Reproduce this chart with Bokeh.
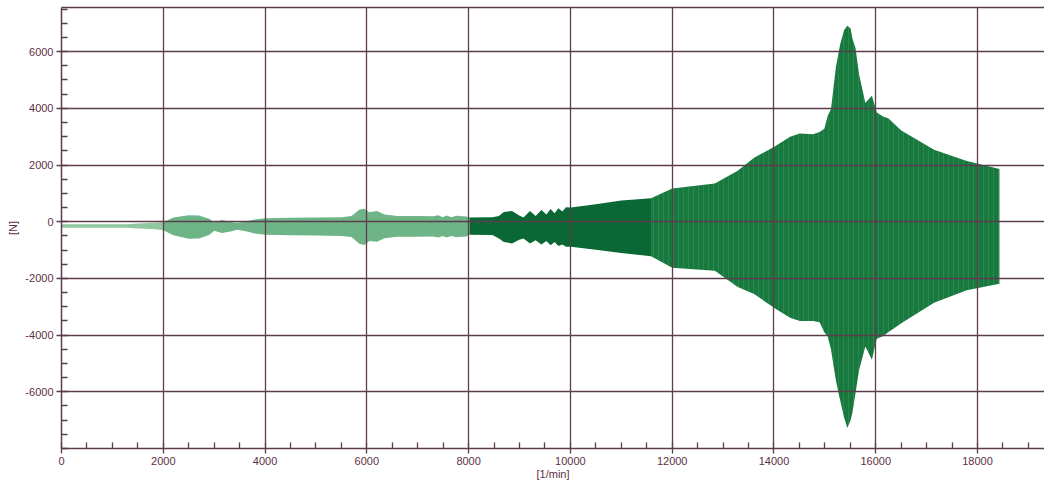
from bokeh.plotting import figure
from bokeh.models import Range1d, FixedTicker, LinearAxis, ColumnDataSource, CustomJSTickFormatter
from bokeh.embed import file_html
from bokeh.resources import INLINE

# Envelope of the force signal: speed [1/min], upper / lower force [N]
rpm = [0, 1300, 1500, 1800, 2000, 2200, 2500, 2700, 2900, 3000, 3150, 3300, 3450, 3600,
       3800, 4000, 4500, 5000, 5500, 5700, 5850, 5950, 6050, 6200, 6350, 6600, 7000,
       7300, 7406, 7490, 7567, 7660, 7759, 7950, 8017, 8467, 8596, 8692, 8853, 8994,
       9078, 9206, 9316, 9431, 9528, 9611, 9688, 9765, 9842, 9913, 10010, 10500, 11000,
       11585, 12002, 12839, 13288, 13610, 14015, 14317, 14510, 14768, 14896, 14990,
       15056, 15120, 15217, 15300, 15377, 15442, 15506, 15540, 15602, 15670, 15795,
       15850, 15924, 16020, 16150, 16245, 16502, 17145, 17788, 18431]
upper = [-90, -90, -60, -40, -20, 150, 230, 220, 100, -20, 60, 0, -40, 0,
         80, 120, 140, 150, 160, 200, 420, 460, 330, 380, 250, 200, 200,
         190, 230, 160, 220, 160, 210, 180, 150, 160, 205, 342, 376, 220,
         147, 376, 205, 410, 250, 444, 295, 478, 362, 512, 500, 620, 750,
         831, 1173, 1344, 1799, 2256, 2653, 2995, 3111, 3088, 3166, 3280,
         3740, 3970, 5450, 6250, 6756, 6910, 6814, 6470, 6130, 5220, 4190,
         4300, 4445, 3850, 3700, 3650, 3220, 2540, 2140, 1860]
lower = [-210, -210, -240, -260, -300, -480, -600, -590, -470, -320, -400, -350, -280, -330,
         -420, -460, -480, -490, -500, -540, -780, -820, -680, -710, -580, -530, -530,
         -520, -560, -500, -560, -500, -550, -520, -460, -470, -595, -720, -766, -640,
         -595, -766, -650, -800, -680, -834, -720, -857, -800, -880, -880, -990, -1100,
         -1220, -1620, -1733, -2304, -2550, -3050, -3385, -3499, -3499, -3550, -3900,
         -4050, -4500, -5600, -6300, -6900, -7280, -7000, -6750, -6050, -5250, -4400,
         -4600, -4870, -4130, -4030, -3900, -3580, -2860, -2420, -2190]

x_ticks = [0, 2000, 4000, 6000, 8000, 10000, 12000, 14000, 16000, 18000]
y_ticks = [-6000, -4000, -2000, 0, 2000, 4000, 6000]
x_minor = list(range(0, 19500, 500))
y_minor = list(range(-8000, 8000, 500))

GRID = "#5b3d4c"
TXT = "#5e3045"

p = figure(width=1044, height=487, output_backend="svg", toolbar_location=None,
           x_range=Range1d(0, 19316), y_range=Range1d(-8000, 7556),
           min_border_left=61, min_border_right=0, min_border_top=7, min_border_bottom=39,
           background_fill_color="white", border_fill_color="white")
p.outline_line_color = None

# segments (style only)
segs = [(0, 2000, "#8fc79f", 1.0, None),
        (2000, 8017, "#55a771", 0.85, None),
        (8017, 11585, "#096834", 1.0, None),
        (11585, 18431, "#18793f", 1.0, "|")]
for a, b, col, al, hatch in segs:
    idx = [i for i, r in enumerate(rpm) if a <= r <= b]
    src = ColumnDataSource(dict(x=[rpm[i] for i in idx],
                                y1=[lower[i] for i in idx],
                                y2=[upper[i] for i in idx]))
    kw = {}
    if hatch:
        kw = dict(hatch_pattern=hatch, hatch_color="#5aa878", hatch_alpha=0.3,
                  hatch_scale=5, hatch_weight=1)
    p.varea(x="x", y1="y1", y2="y2", source=src, fill_color=col, fill_alpha=al, **kw)

for g in (p.xgrid, p.ygrid):
    g.grid_line_color = GRID
    g.grid_line_width = 1.3
    g.level = "overlay"
p.xgrid.ticker = FixedTicker(ticks=x_ticks)
p.ygrid.ticker = FixedTicker(ticks=y_ticks)

fmt = CustomJSTickFormatter(code="return tick.toFixed(0);")
p.xaxis.ticker = FixedTicker(ticks=x_ticks, minor_ticks=x_minor)
p.yaxis.ticker = FixedTicker(ticks=y_ticks, minor_ticks=y_minor)
for ax in (p.xaxis[0], p.yaxis[0]):
    ax.formatter = fmt
    ax.axis_line_color = GRID
    ax.axis_line_width = 1.5
    ax.major_tick_line_color = GRID
    ax.minor_tick_line_color = GRID
    ax.major_tick_line_width = 1.3
    ax.minor_tick_line_width = 1.3
    ax.major_tick_out = 5
    ax.major_tick_in = 0
    ax.minor_tick_in = 6
    ax.minor_tick_out = 0
    ax.major_label_text_color = TXT
    ax.major_label_text_font = "Liberation Sans"
    ax.major_label_text_font_size = "11px"
    ax.major_label_standoff = 3
    ax.axis_label_text_color = TXT
    ax.axis_label_text_font = "Liberation Sans"
    ax.axis_label_text_font_size = "11px"
    ax.axis_label_text_font_style = "normal"
p.xaxis.axis_label = "[1/min]"
p.yaxis.axis_label = "[N]"
p.xaxis.axis_label_standoff = 0
p.yaxis.axis_label_standoff = 3

top = LinearAxis(ticker=FixedTicker(ticks=[]), axis_line_color=GRID, axis_line_width=1.5,
                 major_tick_line_color=None, minor_tick_line_color=None,
                 major_label_text_font_size="0px")
p.add_layout(top, "above")

open("out.html", "w").write(file_html(p, INLINE))
